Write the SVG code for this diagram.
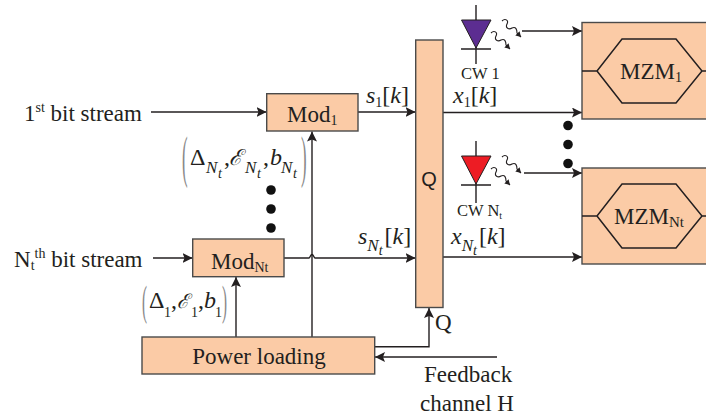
<svg xmlns="http://www.w3.org/2000/svg" width="706" height="416" viewBox="0 0 706 416">
<defs>
<marker id="a" markerUnits="userSpaceOnUse" markerWidth="12" markerHeight="12" refX="10" refY="5" orient="auto"><path d="M0,0L10,5L0,10L2,5Z" fill="#231f20"/></marker>
<marker id="w" markerUnits="userSpaceOnUse" markerWidth="7" markerHeight="7" refX="5" refY="3" orient="auto"><path d="M0,0L5,3L0,6Z" fill="#231f20"/></marker>
</defs>
<style>
text{font-family:"Liberation Serif","Times New Roman",serif;fill:#231f20;font-size:23px}
.box{fill:#fbcba6;stroke:#4a4a4a;stroke-width:1.4}
.ln{fill:none;stroke:#231f20;stroke-width:1.4}
.ar{marker-end:url(#a)}
.wv{fill:none;stroke:#231f20;stroke-width:1.1;marker-end:url(#w)}
.hx{fill:none;stroke:#231f20;stroke-width:1.5}
.i{font-style:italic}
.n{font-style:normal}
.sm{font-size:14px}
.xs{font-size:14px;font-style:italic}
.cw{font-size:16.500px}
.mth{font-size:24px}
.sb{font-size:17px;font-style:italic}
.par{fill:#888}
.dot{fill:#111}
.ee{font-family:"DejaVu Serif",serif;font-style:italic}
</style>
<rect width="706" height="416" fill="#fff"/>
<g id="connectors">
<path class="ln ar" d="M151,112H266.500"/>
<path class="ln ar" d="M358,112H415.500"/>
<path class="ln ar" d="M153,258H192.500"/>
<path class="ln ar" d="M284,258H309C310,258 310.500,254.500 312,254.500C313.500,254.500 314,258 315,258H415.500"/>
<path class="ln ar" d="M312,337V131.500"/>
<path class="ln ar" d="M236,337V277"/>
<path class="ln ar" d="M374.500,346.700H429V308"/>
<path class="ln ar" d="M497,357H375"/>
<path class="ln ar" d="M443,112.500H582"/>
<path class="ln ar" d="M443,257H582"/>
<path class="ln ar" d="M522,31H582"/>
<path class="ln ar" d="M524,173H582"/>
</g>
<g id="q"><rect class="box" x="415.700" y="40" width="27.300" height="267.500"/><text x="429" y="186" text-anchor="middle" style="font-family:'Liberation Sans',sans-serif;font-size:20px">Q</text></g>
<g id="mod1"><rect class="box" x="266.700" y="93.700" width="91.300" height="37.300"/><text x="287" y="122">Mod<tspan class="sm" dy="3">1</tspan></text></g>
<g id="modnt"><rect class="box" x="192.700" y="239" width="91.300" height="37.700"/><text x="211" y="269">Mod<tspan class="sm" dy="3">Nt</tspan></text></g>
<g id="power"><rect class="box" x="142" y="337" width="232.700" height="37"/><text x="259" y="364" text-anchor="middle">Power loading</text></g>
<g id="mzm1"><rect class="box" x="582" y="22.500" width="130" height="96.500"/><path class="hx" d="M582,71H597L622,39H676L702,71L676,103H622L597,71M702,71H706"/><text x="620" y="79">MZM<tspan class="sm" dy="3">1</tspan></text></g>
<g id="mzmnt"><rect class="box" x="582" y="168" width="130" height="96"/><path class="hx" d="M582,216H597L622,184H676L702,216L676,248H622L597,216M702,216H706"/><text x="614" y="224">MZM<tspan dy="3" style="font-size:15px">Nt</tspan></text></g>
<g id="cw1"><path class="ln" d="M476,5V64M461,49H491"/><path d="M461.500,20H491L476,48Z" fill="#5c2d91" stroke="#231f20"/>
<path class="wv" d="M502,21C505,18 509,20 507,24C505,28 509,30 512,28C516,26 517,30 517,33L521,37"/><path class="wv" d="M491,33C494,30 498,32 496,36C494,40 498,42 501,40C505,38 506,42 506,45L510,49"/>
<text class="cw" x="461" y="79">CW 1</text></g>
<g id="cwnt"><path class="ln" d="M476,141V203M461,185H491"/><path d="M461.500,156H491L476,184Z" fill="#ed1c24" stroke="#231f20"/>
<path class="wv" d="M502,157C505,154 509,156 507,160C505,164 509,166 512,164C516,162 517,166 517,169L521,173"/><path class="wv" d="M491,169C494,166 498,168 496,172C494,176 498,178 501,176C505,174 506,178 506,181L510,185"/>
<text class="cw" x="457" y="216">CW N<tspan style="font-size:10px" dy="3">t</tspan></text></g>
<g id="labels">
<text x="24" y="121">1<tspan style="font-size:14px" dy="-9">st</tspan><tspan dy="9"> bit stream</tspan></text>
<text x="14" y="267">N<tspan style="font-size:14px" dy="3">t</tspan><tspan style="font-size:14px" dy="-12">th</tspan><tspan dy="9"> bit stream</tspan></text>
<text class="mth" x="366" y="103"><tspan class="i">s</tspan><tspan class="sm" dy="4">1</tspan><tspan dy="-4">[</tspan><tspan class="i">k</tspan>]</text>
<text class="mth" x="453" y="103"><tspan class="i">x</tspan><tspan class="sm" dy="4">1</tspan><tspan dy="-4">[</tspan><tspan class="i">k</tspan>]</text>
<text class="mth" x="358" y="244"><tspan class="i">s</tspan><tspan class="sb" dy="7">N</tspan><tspan class="xs" dy="4">t</tspan><tspan dy="-11" dx="2">[</tspan><tspan class="i">k</tspan>]</text>
<text class="mth" x="451" y="244"><tspan class="i">x</tspan><tspan class="sb" dy="7">N</tspan><tspan class="xs" dy="4">t</tspan><tspan dy="-11" dx="2">[</tspan><tspan class="i">k</tspan>]</text>
<text x="435" y="330">Q</text>
<text x="424" y="382">Feedback</text>
<text x="420" y="411">channel H</text>
<text x="190" y="165" style="font-size:24px">Δ<tspan class="sb" x="206" y="173">N</tspan><tspan class="xs" x="218" y="178">t</tspan><tspan x="224" y="165">,</tspan><tspan class="ee" x="229" y="165" style="font-size:22px">ℰ</tspan><tspan class="sb" x="245" y="173">N</tspan><tspan class="xs" x="257" y="178">t</tspan><tspan x="263" y="165">,</tspan><tspan class="i" x="270" y="165">b</tspan><tspan class="sb" x="281" y="173">N</tspan><tspan class="xs" x="293" y="178">t</tspan></text>
<text x="149" y="308" style="font-size:24px">Δ<tspan class="sm" x="164" y="317">1</tspan><tspan x="171" y="308">,</tspan><tspan class="ee" x="177" y="308" style="font-size:20px">ℰ</tspan><tspan class="sm" x="191" y="317">1</tspan><tspan x="198" y="308">,</tspan><tspan class="i" x="204" y="308">b</tspan><tspan class="sm" x="215" y="317">1</tspan></text>
<text class="par" style="font-size:56px" transform="translate(182,176) scale(.3,1)">(</text>
<text class="par" style="font-size:56px" transform="translate(301,176) scale(.3,1)">)</text>
<text class="par" style="font-size:43px" transform="translate(142,315) scale(.35,1)">(</text>
<text class="par" style="font-size:43px" transform="translate(222,315) scale(.35,1)">)</text>
</g>
<g id="dots">
<circle class="dot" cx="568" cy="125.500" r="4.800"/><circle class="dot" cx="568" cy="144.500" r="4.800"/><circle class="dot" cx="568" cy="163.500" r="4.800"/>
<circle class="dot" cx="271" cy="190" r="4.800"/><circle class="dot" cx="271" cy="209" r="4.800"/><circle class="dot" cx="271" cy="228" r="4.800"/>
</g>
</svg>
